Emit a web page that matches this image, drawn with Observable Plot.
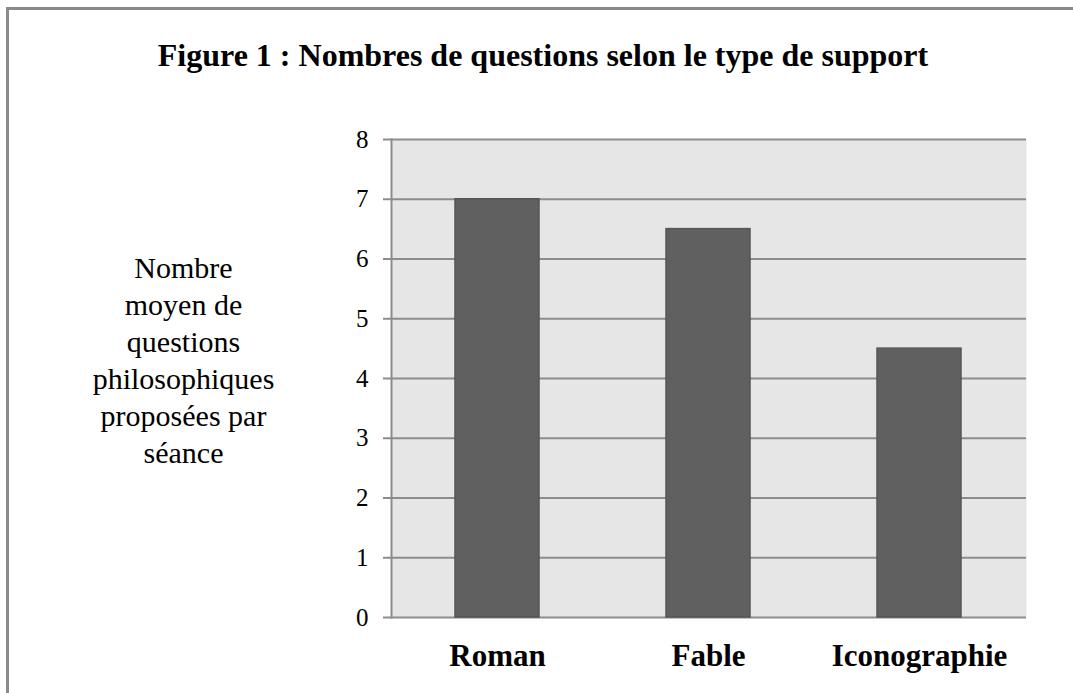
<!DOCTYPE html>
<html>
<head>
<meta charset="utf-8">
<script src="https://cdn.jsdelivr.net/npm/d3@7"></script>
<script src="https://cdn.jsdelivr.net/npm/@observablehq/plot@0.6"></script>
<style>
  html, body { margin: 0; padding: 0; background: #fff; }
  #wrap { position: relative; width: 1073px; height: 693px; overflow: hidden; }
  #border { position: absolute; left: 6px; top: 7px; width: 1100px; height: 720px;
            border-left: 3px solid #8a8a8a; border-top: 3px solid #8a8a8a; box-sizing: border-box; }
  #chart { position: absolute; left: 0; top: 0; }
</style>
</head>
<body>
<div id="wrap"><div id="border"></div><div id="chart"></div></div>
<script>
const categories = ["Roman", "Fable", "Iconographie"];
const values = [7, 6.5, 4.5];
const yTicks = [0, 1, 2, 3, 4, 5, 6, 7, 8];
const title = "Figure 1 : Nombres de questions selon le type de support";
const yLabel = "Nombre\nmoyen de\nquestions\nphilosophiques\nproposées par\nséance";

const data = categories.map((c, i) => ({category: c, value: values[i]}));
const font = "'Liberation Serif', 'Times New Roman', serif";

const chart = Plot.plot({
  width: 1073,
  height: 693,
  marginLeft: 391,
  marginRight: 47,
  marginTop: 139,
  marginBottom: 76,
  style: {fontFamily: font, background: "transparent", color: "#000"},
  x: {domain: categories, paddingInner: 0.6, paddingOuter: 0.3, label: null},
  y: {domain: [0, 8], label: null},
  marks: [
    Plot.frame({fill: "#e6e6e6", stroke: null}),
    Plot.gridY(yTicks, {stroke: "#8c8c8c", strokeOpacity: 1, strokeWidth: 2}),
    Plot.frame({anchor: "left", stroke: "#8c8c8c", strokeWidth: 2}),
    Plot.axisY(yTicks, {tickSize: 8, stroke: "#8c8c8c", strokeWidth: 2, tickPadding: 15, fontSize: 25, fill: "#000", tickFormat: d3.format("d"), label: null}),
    Plot.barY(data, {x: "category", y: "value", fill: "#606060", stroke: "#555555", strokeWidth: 1.5}),
    Plot.axisX({tickSize: 0, tickPadding: 26, fontSize: 31, fontWeight: "bold", fill: "#000", label: null}),
    Plot.text([title], {text: d => d, frameAnchor: "top", lineAnchor: "middle", dx: -166, dy: -84, fontSize: 32, fontWeight: "bold", fill: "#000"}),
    Plot.text([yLabel], {text: d => d, frameAnchor: "left", lineAnchor: "middle", dx: -208, dy: -20, fontSize: 30, lineHeight: 1.23, textAnchor: "middle", fill: "#000"})
  ]
});
document.getElementById("chart").appendChild(chart);
</script>
</body>
</html>
